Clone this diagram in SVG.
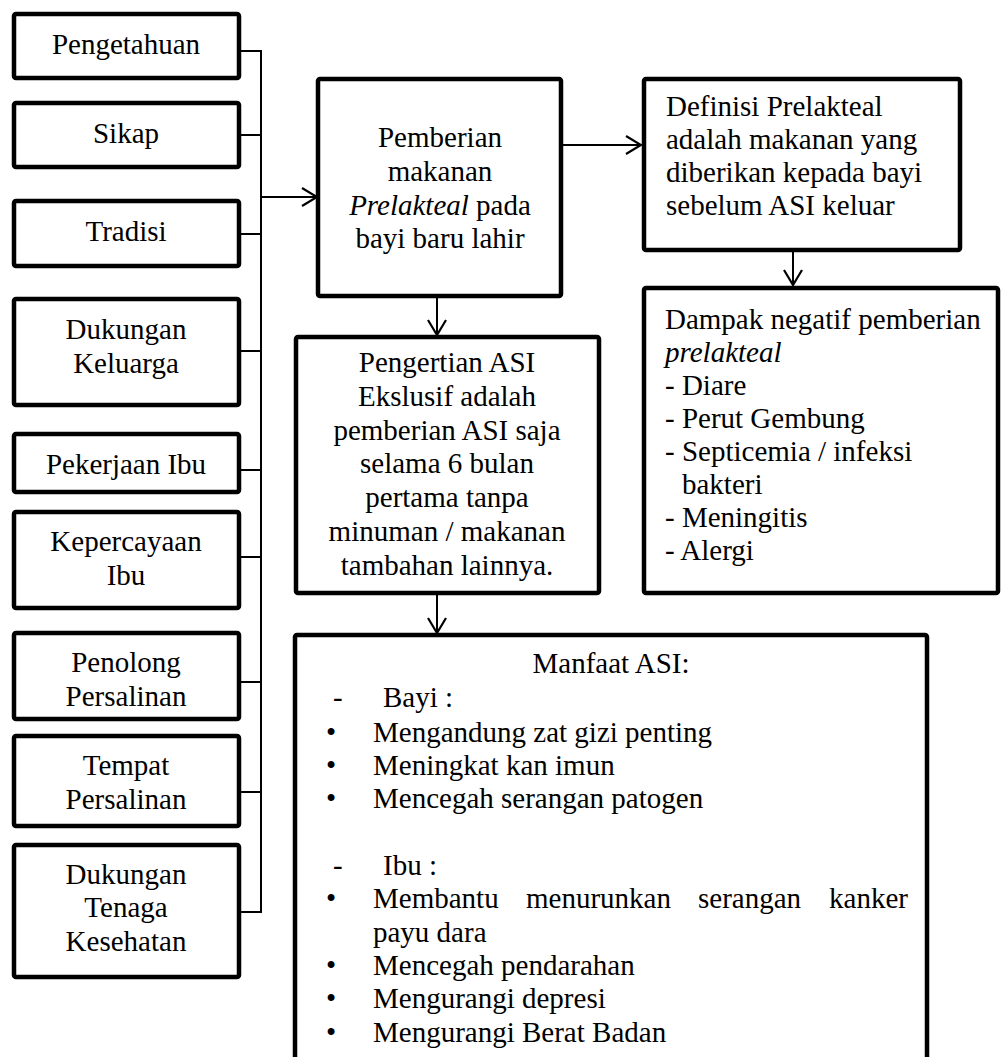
<svg xmlns="http://www.w3.org/2000/svg" width="1001" height="1057" viewBox="0 0 1001 1057" font-family="Liberation Serif, Times New Roman, serif">
<style>
.box{fill:#fff;stroke:#000;stroke-width:4.5;}
.t{font-family:Liberation Serif, Times New Roman, serif;font-size:29px;fill:#000;}
.c{text-anchor:middle;}
.ln{stroke:#000;stroke-width:2;fill:none;}
</style>
<defs>
<marker id="arr" viewBox="0 0 18 20" refX="16" refY="10" markerWidth="18" markerHeight="20" markerUnits="userSpaceOnUse" orient="auto">
<path d="M1,1 L16,10 L1,19" fill="none" stroke="#000" stroke-width="2.2"/>
</marker>
</defs>
<rect width="1001" height="1057" fill="#fff"/>
<g id="connectors">
<path class="ln" d="M241,51H261M241,135H261M241,234H261M241,351H261M241,470H261M241,557H261M241,682H261M241,792H261M241,912H261M261,50V913"/>
<line class="ln" x1="262" y1="197" x2="317" y2="197" marker-end="url(#arr)"/>
<line class="ln" x1="563" y1="145" x2="641" y2="145" marker-end="url(#arr)"/>
<line class="ln" x1="793" y1="252" x2="793" y2="285" marker-end="url(#arr)"/>
<line class="ln" x1="437" y1="297" x2="437" y2="335" marker-end="url(#arr)"/>
<line class="ln" x1="437" y1="595" x2="437" y2="633" marker-end="url(#arr)"/>
</g>
<g id="pengetahuan"><rect class="box" x="14" y="14" width="225" height="64" rx="2"/><text class="t c" x="126" y="54">Pengetahuan</text></g>
<g id="sikap"><rect class="box" x="14" y="103" width="225" height="64" rx="2"/><text class="t c" x="126" y="143">Sikap</text></g>
<g id="tradisi"><rect class="box" x="14" y="201" width="225" height="65" rx="2"/><text class="t c" x="126" y="241">Tradisi</text></g>
<g id="dukungan-keluarga"><rect class="box" x="14" y="299" width="225" height="106" rx="2"/><text class="t c" x="126" y="339">Dukungan</text><text class="t c" x="126" y="373">Keluarga</text></g>
<g id="pekerjaan-ibu"><rect class="box" x="14" y="434" width="225" height="58" rx="2"/><text class="t c" x="126" y="474">Pekerjaan Ibu</text></g>
<g id="kepercayaan-ibu"><rect class="box" x="14" y="512" width="225" height="96" rx="2"/><text class="t c" x="126" y="551">Kepercayaan</text><text class="t c" x="126" y="585">Ibu</text></g>
<g id="penolong-persalinan"><rect class="box" x="14" y="633" width="225" height="86" rx="2"/><text class="t c" x="126" y="672">Penolong</text><text class="t c" x="126" y="706">Persalinan</text></g>
<g id="tempat-persalinan"><rect class="box" x="14" y="736" width="225" height="90" rx="2"/><text class="t c" x="126" y="775">Tempat</text><text class="t c" x="126" y="809">Persalinan</text></g>
<g id="dukungan-tenaga"><rect class="box" x="14" y="845" width="225" height="132" rx="2"/><text class="t c" x="126" y="884">Dukungan</text><text class="t c" x="126" y="917">Tenaga</text><text class="t c" x="126" y="951">Kesehatan</text></g>
<g id="pemberian"><rect class="box" x="318" y="79" width="243" height="217" rx="2"/>
<text class="t c" x="440" y="147">Pemberian</text>
<text class="t c" x="440" y="181">makanan</text>
<text class="t c" x="440" y="215"><tspan font-style="italic">Prelakteal</tspan> pada</text>
<text class="t c" x="440" y="248">bayi baru lahir</text></g>
<g id="definisi"><rect class="box" x="644" y="79" width="316" height="171" rx="2"/>
<text class="t" x="666" y="116">Definisi Prelakteal</text>
<text class="t" x="666" y="149">adalah makanan yang</text>
<text class="t" x="666" y="182">diberikan kepada bayi</text>
<text class="t" x="666" y="215">sebelum ASI keluar</text></g>
<g id="dampak"><rect class="box" x="644" y="288" width="354" height="305" rx="2"/>
<text class="t" x="665" y="329">Dampak negatif pemberian</text>
<text class="t" x="665" y="362" font-style="italic">prelakteal</text>
<text class="t" x="665" y="395">- Diare</text>
<text class="t" x="665" y="428">- Perut Gembung</text>
<text class="t" x="665" y="461">- Septicemia / infeksi</text>
<text class="t" x="682" y="494">bakteri</text>
<text class="t" x="665" y="527">- Meningitis</text>
<text class="t" x="665" y="560">- Alergi</text></g>
<g id="pengertian"><rect class="box" x="296" y="337" width="303" height="256" rx="2"/>
<text class="t c" x="447" y="372">Pengertian ASI</text>
<text class="t c" x="447" y="406">Ekslusif adalah</text>
<text class="t c" x="447" y="440">pemberian ASI saja</text>
<text class="t c" x="447" y="473">selama 6 bulan</text>
<text class="t c" x="447" y="507">pertama tanpa</text>
<text class="t c" x="447" y="541">minuman / makanan</text>
<text class="t c" x="447" y="575">tambahan lainnya.</text></g>
<g id="manfaat"><rect class="box" x="295" y="635" width="632" height="440" rx="2"/>
<text class="t c" x="611" y="673">Manfaat ASI:</text>
<text class="t" x="333" y="707">-</text><text class="t" x="383" y="707">Bayi :</text>
<text class="t" x="326" y="742">•</text><text class="t" x="373" y="742">Mengandung zat gizi penting</text>
<text class="t" x="326" y="775">•</text><text class="t" x="373" y="775">Meningkat kan imun</text>
<text class="t" x="326" y="808">•</text><text class="t" x="373" y="808">Mencegah serangan patogen</text>
<text class="t" x="333" y="875">-</text><text class="t" x="383" y="875">Ibu :</text>
<text class="t" x="326" y="908">•</text><text class="t" x="373" y="908">Membantu</text><text class="t" x="526" y="908">menurunkan</text><text class="t" x="698" y="908">serangan</text><text class="t" x="908" y="908" text-anchor="end">kanker</text>
<text class="t" x="373" y="942">payu dara</text>
<text class="t" x="326" y="975">•</text><text class="t" x="373" y="975">Mencegah pendarahan</text>
<text class="t" x="326" y="1008">•</text><text class="t" x="373" y="1008">Mengurangi depresi</text>
<text class="t" x="326" y="1042">•</text><text class="t" x="373" y="1042">Mengurangi Berat Badan</text></g>
</svg>
